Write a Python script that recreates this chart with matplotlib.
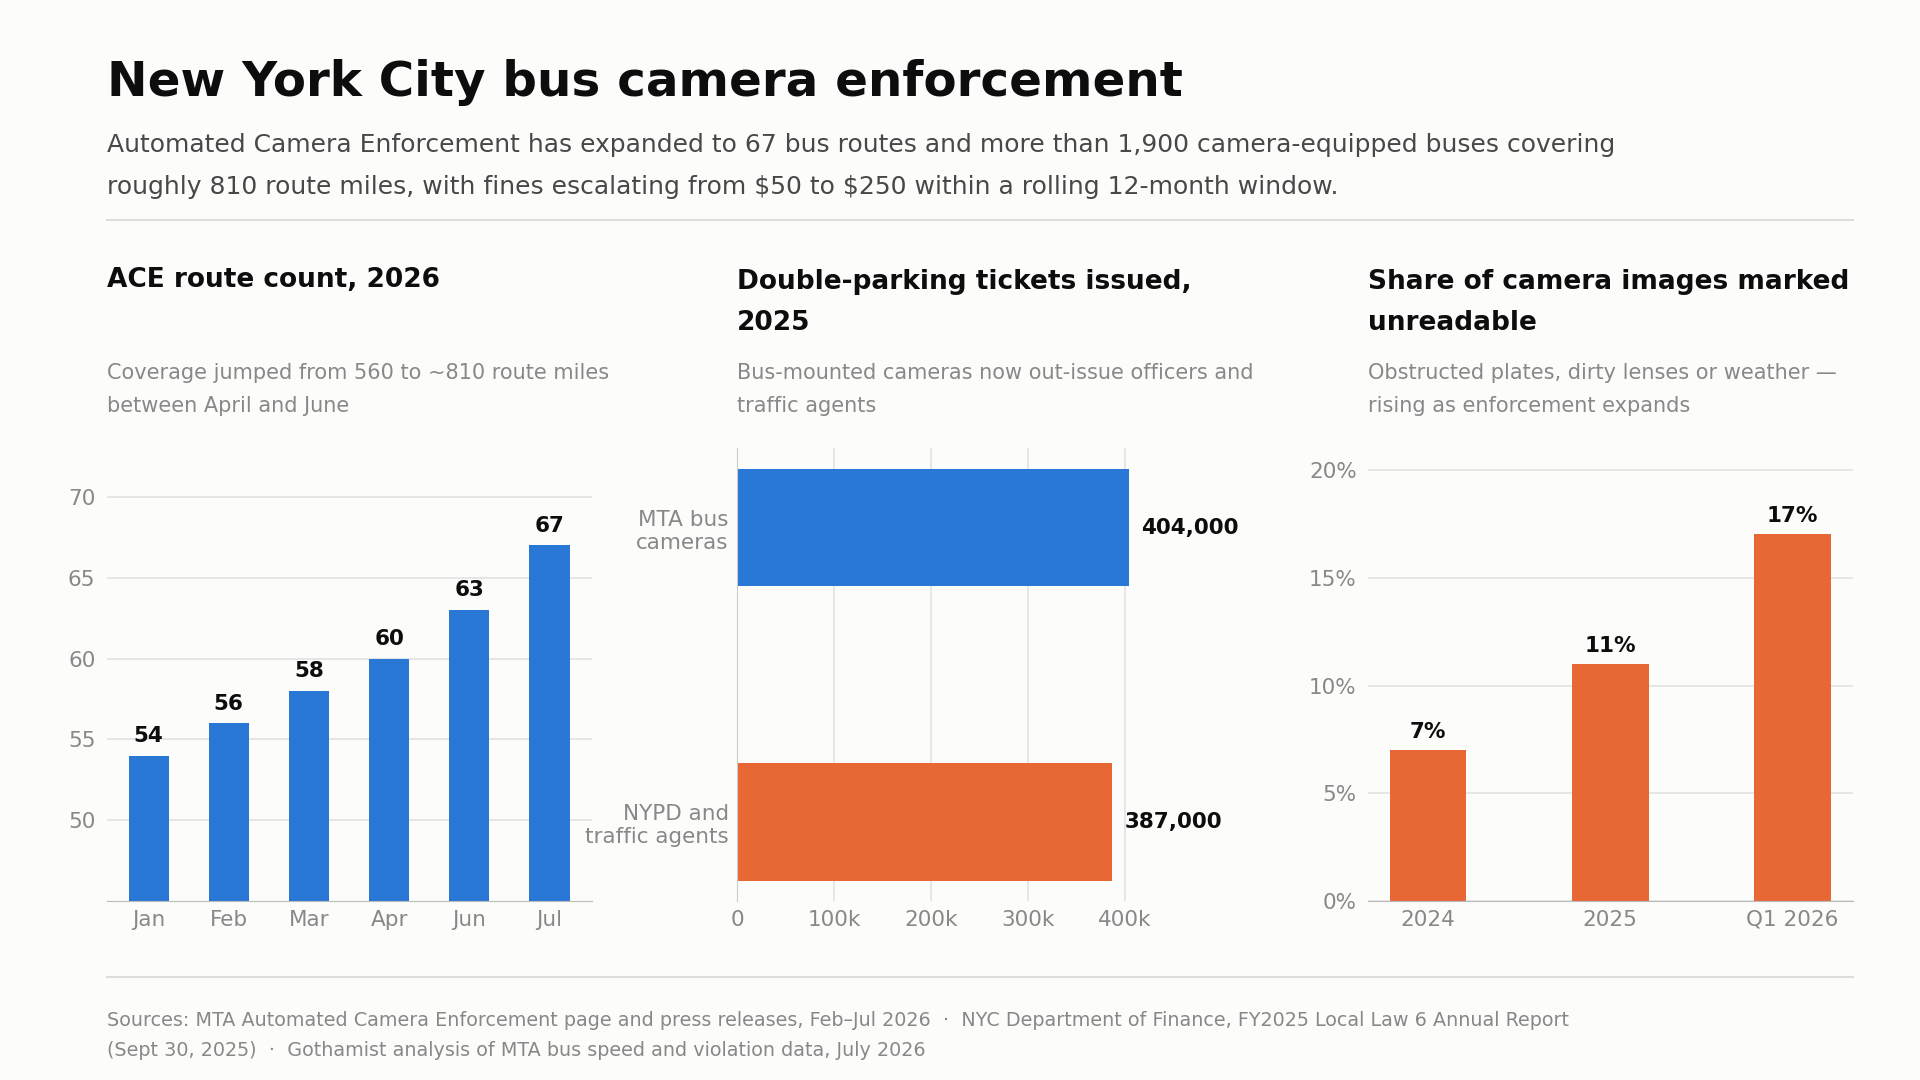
import matplotlib
matplotlib.use("Agg")
import matplotlib.pyplot as plt
from matplotlib.ticker import FuncFormatter

# data
months = ["Jan", "Feb", "Mar", "Apr", "Jun", "Jul"]
route_counts = [54, 56, 58, 60, 63, 67]

ticket_sources = ["MTA bus\ncameras", "NYPD and\ntraffic agents"]
tickets = [404000, 387000]

years = ["2024", "2025", "Q1 2026"]
unreadable_pct = [7, 11, 17]

BLUE = "#2a78d6"
ORANGE = "#e86835"
BG = "#fcfcfb"
GRID = "#e2e2e2"
TICK = "#888888"

plt.rcParams["font.family"] = "DejaVu Sans"

fig = plt.figure(figsize=(19.2, 10.8), dpi=100, facecolor=BG)

# header (multi-line texts are anchored on the baseline of their last line)
fig.text(0.0555, 0.9114, "New York City bus camera enforcement", fontsize=34.8,
         fontweight="bold", color="#0d0d0d", va="baseline")
fig.text(0.0555, 0.8208,
         "Automated Camera Enforcement has expanded to 67 bus routes and more than 1,900 camera-equipped buses covering\n"
         "roughly 810 route miles, with fines escalating from \\$50 to \\$250 within a rolling 12-month window.",
         fontsize=18, color="#484848", va="baseline", linespacing=1.92)
fig.add_artist(plt.Line2D([0.0555, 0.965], [0.7963, 0.7963], color="#dddddd", lw=1.5))

lefts = [0.0555, 0.3839, 0.7124]
width = 0.2526
bottom, height = 0.1655, 0.4195

titles = ["ACE route count, 2026",
          "Double-parking tickets issued,\n2025",
          "Share of camera images marked\nunreadable"]
title_y = [0.7338, 0.6944, 0.6944]
subs = ["Coverage jumped from 560 to ~810 route miles\nbetween April and June",
        "Bus-mounted cameras now out-issue officers and\ntraffic agents",
        "Obstructed plates, dirty lenses or weather \u2014\nrising as enforcement expands"]

for x, t, ty, s in zip(lefts, titles, title_y, subs):
    fig.text(x, ty, t, fontsize=19, fontweight="bold", color="#0d0d0d",
             va="baseline", linespacing=1.75)
    fig.text(x, 0.6181, s, fontsize=15, color="#888888", va="baseline", linespacing=1.83)

axes = [fig.add_axes([l, bottom, width, height]) for l in lefts]
for ax in axes:
    ax.set_facecolor(BG)
    ax.set_axisbelow(True)
    for sp in ax.spines.values():
        sp.set_visible(False)
    ax.tick_params(length=0, labelsize=15.5, labelcolor=TICK)

# panel 1
ax1 = axes[0]
b1 = ax1.bar(range(len(months)), route_counts, width=0.5, color=BLUE)
ax1.set_xticks(range(len(months)), months)
ax1.set_ylim(45, 73)
ax1.set_yticks([50, 55, 60, 65, 70])
ax1.grid(axis="y", color=GRID, lw=1.2)
ax1.spines["bottom"].set_visible(True)
ax1.spines["bottom"].set_color("#bbbbbb")
ax1.tick_params(axis="y", pad=8)
ax1.tick_params(axis="x", pad=6)
ax1.bar_label(b1, padding=7, fontsize=15.5, fontweight="bold", color="#0d0d0d")

# panel 2
ax2 = axes[1]
b2 = ax2.barh(range(len(ticket_sources)), tickets, height=0.4, color=[BLUE, ORANGE])
ax2.set_yticks(range(len(ticket_sources)), ticket_sources, ha="right")
ax2.set_ylim(1.27, -0.27)
ax2.set_xlim(0, 500000)
ax2.set_xticks([0, 100000, 200000, 300000, 400000])
ax2.xaxis.set_major_formatter(FuncFormatter(lambda v, p: "0" if v == 0 else f"{int(v / 1000)}k"))
ax2.grid(axis="x", color=GRID, lw=1.2)
ax2.spines["left"].set_visible(True)
ax2.spines["left"].set_color("#cccccc")
ax2.tick_params(axis="y", pad=6)
ax2.tick_params(axis="x", pad=6)
ax2.bar_label(b2, labels=[f"{v:,}" for v in tickets], padding=9, fontsize=15.5,
              fontweight="bold", color="#0d0d0d")

# panel 3
ax3 = axes[2]
b3 = ax3.bar(range(len(years)), unreadable_pct, width=0.42, color=ORANGE)
ax3.set_xticks(range(len(years)), years)
ax3.set_ylim(0, 21)
ax3.set_yticks([0, 5, 10, 15, 20])
ax3.yaxis.set_major_formatter(FuncFormatter(lambda v, p: f"{int(v)}%"))
ax3.grid(axis="y", color=GRID, lw=1.2)
ax3.spines["bottom"].set_visible(True)
ax3.spines["bottom"].set_color("#bbbbbb")
ax3.tick_params(axis="y", pad=8)
ax3.tick_params(axis="x", pad=6)
ax3.bar_label(b3, labels=[f"{v}%" for v in unreadable_pct], padding=6, fontsize=15.5,
              fontweight="bold", color="#0d0d0d")

# footer
fig.add_artist(plt.Line2D([0.0555, 0.965], [0.0956, 0.0956], color="#dddddd", lw=1.5))
fig.text(0.0555, 0.0222,
         "Sources: MTA Automated Camera Enforcement page and press releases, Feb\u2013Jul 2026  \u00b7  "
         "NYC Department of Finance, FY2025 Local Law 6 Annual Report\n"
         "(Sept 30, 2025)  \u00b7  Gothamist analysis of MTA bus speed and violation data, July 2026",
         fontsize=13.8, color="#888888", va="baseline", linespacing=1.71)

fig.savefig("out.png", dpi=100, facecolor=BG)
